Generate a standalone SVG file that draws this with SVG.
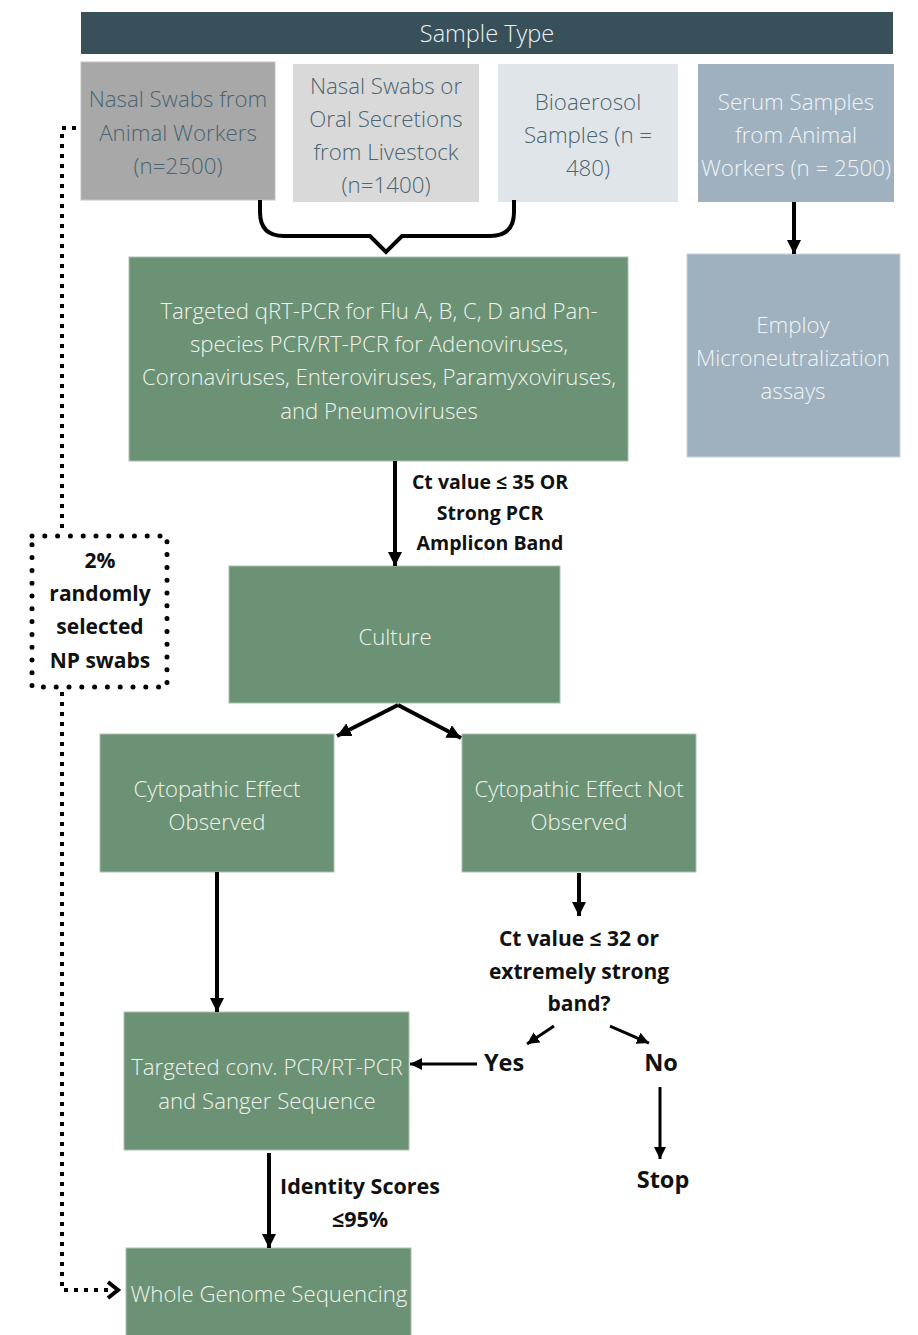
<svg xmlns="http://www.w3.org/2000/svg" width="918" height="1335" viewBox="0 0 918 1335">
<defs>
<style>
.t{font-family:"Open Sans","Noto Sans","Liberation Sans",sans-serif;font-weight:300;text-anchor:middle;dominant-baseline:central}
.b{font-family:"Open Sans","Noto Sans","Liberation Sans",sans-serif;font-weight:700;text-anchor:middle;dominant-baseline:central;fill:#111;font-size:21px}
.b.s{font-size:19.5px}
.b.l{font-size:23.5px}
.b.m{font-size:21.5px}
.g{fill:#6c9275;stroke:#a9c1ae;stroke-width:1}
.gt{fill:#f1f3ec;font-size:22.2px}
.st{fill:#4a6470;font-size:22.3px}
.wt{fill:#f0f4f6;font-size:22.3px}
.ln{stroke:#000;stroke-width:4;fill:none}
.th{stroke:#000;stroke-width:3;fill:none}
</style>
<marker id="ah" markerUnits="userSpaceOnUse" markerWidth="16" markerHeight="14" refX="14" refY="7" orient="auto">
<path d="M0,0 L14,7 L0,14 Z" fill="#000"/>
</marker>
<marker id="ahs" markerUnits="userSpaceOnUse" markerWidth="14" markerHeight="12" refX="12" refY="6" orient="auto">
<path d="M0,0 L12,6 L0,12 Z" fill="#000"/>
</marker>
</defs>
<rect width="918" height="1335" fill="#fff"/>

<g id="header">
<rect x="81" y="12" width="812" height="42" fill="#37505a"/>
<text class="t" x="487" y="33" fill="#eef2f3" font-size="23.5">Sample Type</text>
</g>

<g id="nasal-workers">
<rect x="81" y="62" width="194" height="138" fill="#a8a8a8" stroke="#c4c4c4" stroke-width="1"/>
<text class="t st" x="178" y="98">Nasal Swabs from</text>
<text class="t st" x="178" y="132">Animal Workers</text>
<text class="t st" x="178" y="165">(n=2500)</text>
</g>

<g id="nasal-livestock">
<rect x="293" y="64" width="186" height="138" fill="#d9d9d9"/>
<text class="t st" x="386" y="85">Nasal Swabs or</text>
<text class="t st" x="386" y="118">Oral Secretions</text>
<text class="t st" x="386" y="151">from Livestock</text>
<text class="t st" x="386" y="184">(n=1400)</text>
</g>

<g id="bioaerosol">
<rect x="498" y="64" width="180" height="138" fill="#e0e5e9"/>
<text class="t st" x="588" y="101">Bioaerosol</text>
<text class="t st" x="588" y="134">Samples (n =</text>
<text class="t st" x="588" y="167">480)</text>
</g>

<g id="serum">
<rect x="698" y="64" width="196" height="138" fill="#9fb1bf"/>
<text class="t wt" x="796" y="101">Serum Samples</text>
<text class="t wt" x="796" y="134">from Animal</text>
<text class="t wt" x="796" y="167">Workers (n = 2500)</text>
</g>

<g id="micro">
<rect x="687" y="254" width="213" height="203" fill="#9fb1bf" stroke="#c9d4dc" stroke-width="1"/>
<text class="t wt" x="793" y="324">Employ</text>
<text class="t wt" x="793" y="357">Microneutralization</text>
<text class="t wt" x="793" y="390">assays</text>
</g>

<g id="qrtpcr">
<rect class="g" x="129" y="257" width="499" height="204"/>
<text class="t gt" x="379" y="310">Targeted qRT-PCR for Flu A, B, C, D and Pan-</text>
<text class="t gt" x="379" y="343">species PCR/RT-PCR for Adenoviruses,</text>
<text class="t gt" x="379" y="376">Coronaviruses, Enteroviruses, Paramyxoviruses,</text>
<text class="t gt" x="379" y="410">and Pneumoviruses</text>
</g>

<g id="culture">
<rect class="g" x="229" y="566" width="331" height="137"/>
<text class="t gt" x="395" y="636">Culture</text>
</g>

<g id="cpe-yes">
<rect class="g" x="100" y="734" width="234" height="138"/>
<text class="t gt" x="217" y="788">Cytopathic Effect</text>
<text class="t gt" x="217" y="821">Observed</text>
</g>

<g id="cpe-no">
<rect class="g" x="462" y="734" width="234" height="138"/>
<text class="t gt" x="579" y="788">Cytopathic Effect Not</text>
<text class="t gt" x="579" y="821">Observed</text>
</g>

<g id="conv-pcr">
<rect class="g" x="124" y="1012" width="285" height="138"/>
<text class="t gt" x="267" y="1066">Targeted conv. PCR/RT-PCR</text>
<text class="t gt" x="267" y="1100">and Sanger Sequence</text>
</g>

<g id="wgs">
<rect class="g" x="126" y="1248" width="285" height="92"/>
<text class="t gt" x="269" y="1293">Whole Genome Sequencing</text>
</g>

<g id="random-box">
<rect x="32" y="536" width="135" height="151" fill="none" stroke="#000" stroke-width="5" stroke-linecap="round" stroke-dasharray="0 12.8"/>
<text class="b" x="100" y="560">2%</text>
<text class="b" x="100" y="593">randomly</text>
<text class="b" x="100" y="626">selected</text>
<text class="b" x="100" y="660">NP swabs</text>
</g>

<g id="labels">
<text class="b s" x="490" y="481">Ct value ≤ 35 OR</text>
<text class="b s" x="490" y="512">Strong PCR</text>
<text class="b s" x="490" y="542">Amplicon Band</text>
<text class="b" x="579" y="938">Ct value ≤ 32 or</text>
<text class="b" x="579" y="971">extremely strong</text>
<text class="b" x="579" y="1003">band?</text>
<text class="b l" x="504" y="1062">Yes</text>
<text class="b l" x="661" y="1062">No</text>
<text class="b l" x="663" y="1179">Stop</text>
<text class="b m" x="360" y="1185">Identity Scores</text>
<text class="b m" x="360" y="1218">≤95%</text>
</g>

<g id="connectors">
<path class="ln" stroke-width="7" d="M260,200 V212 Q260,236 284,236 H370 L386,252 L402,236 H490 Q514,236 514,212 V200"/>
<line class="ln" x1="794" y1="202" x2="794" y2="254" marker-end="url(#ah)"/>
<line class="ln" x1="395" y1="461" x2="395" y2="566" marker-end="url(#ah)"/>
<line class="ln" x1="398" y1="705" x2="337" y2="736" marker-end="url(#ah)"/>
<line class="ln" x1="398" y1="705" x2="461" y2="738" marker-end="url(#ah)"/>
<line class="ln" x1="217" y1="872" x2="217" y2="1012" marker-end="url(#ah)"/>
<line class="ln" x1="579" y1="873" x2="579" y2="916" marker-end="url(#ah)"/>
<line class="th" x1="554" y1="1026" x2="527" y2="1044" marker-end="url(#ahs)"/>
<line class="th" x1="610" y1="1026" x2="649" y2="1043" marker-end="url(#ahs)"/>
<line class="th" x1="477" y1="1064" x2="410" y2="1064" marker-end="url(#ahs)"/>
<line class="th" x1="660" y1="1087" x2="660" y2="1159" marker-end="url(#ahs)"/>
<line class="ln" x1="269" y1="1153" x2="269" y2="1248" marker-end="url(#ah)"/>
<path class="ln" stroke-width="4.5" stroke-dasharray="4 6" d="M76,128 H62 V532"/>
<path class="ln" stroke-width="4.5" stroke-dasharray="4 6" d="M62,692 V1290 H114"/>
<polyline class="ln" points="108,1282 118,1290 108,1298"/>
</g>
</svg>
